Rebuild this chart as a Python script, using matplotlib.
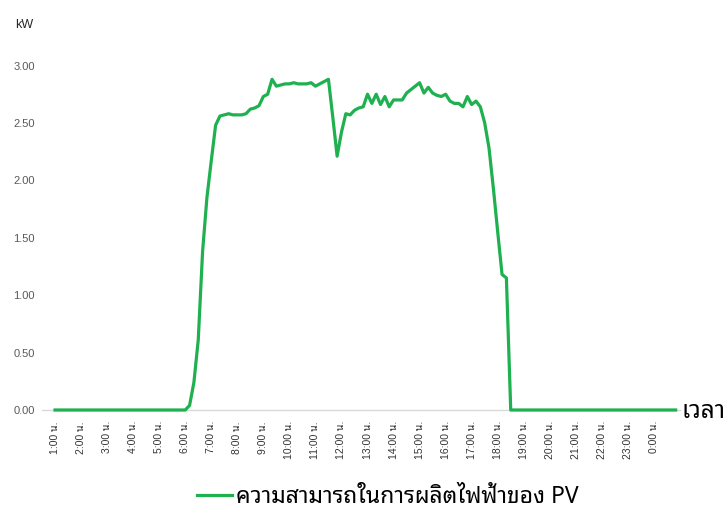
import numpy as np
import matplotlib
matplotlib.use('Agg')
import matplotlib.pyplot as plt
from matplotlib import font_manager

# pick a Thai face (looped style first, like Tahoma)
installed = set(f.name for f in font_manager.fontManager.ttflist)
thai_font = 'DejaVu Sans'
for name in ['Noto Sans Thai Looped', 'IBM Plex Sans Thai Looped', 'Sarabun',
             'K2D', 'Krub', 'Niramit', 'Noto Sans Thai', 'Anuphan']:
    if name in installed:
        thai_font = name
        break
latin_font = 'Liberation Sans'

# PV output every 10 minutes, starting at 1:00 (kW)
pv_kw = [0.0] * 30 + [
    0.00, 0.04, 0.24, 0.61, 1.38, 1.85, 2.17, 2.48, 2.56, 2.57,
    2.58, 2.57, 2.57, 2.57, 2.58, 2.62, 2.63, 2.65, 2.73, 2.75,
    2.88, 2.82, 2.83, 2.84, 2.84, 2.85, 2.84, 2.84, 2.84, 2.85,
    2.82, 2.84, 2.86, 2.88, 2.55, 2.21, 2.42, 2.58, 2.57, 2.61,
    2.63, 2.64, 2.75, 2.67, 2.75, 2.66, 2.73, 2.64, 2.70, 2.70,
    2.70, 2.76, 2.79, 2.82, 2.85, 2.76, 2.81, 2.76, 2.74, 2.73,
    2.75, 2.69, 2.67, 2.67, 2.64, 2.73, 2.66, 2.69, 2.64, 2.50,
    2.28, 1.93, 1.55, 1.18, 1.15, 0.00,
] + [0.0] * 38
start_hour = 1.0
step_hours = 10 / 60

tick_hours = list(range(1, 25))
tick_labels = ['%d:00 น.' % (h % 24) for h in tick_hours]
y_ticks = [0.0, 0.5, 1.0, 1.5, 2.0, 2.5, 3.0]

series_name = 'ความสามารถในการผลิตไฟฟ้าของ PV'
green = '#1fb04f'

hours = start_hour + step_hours * np.arange(len(pv_kw))

fig = plt.figure(figsize=(7.28, 5.16), dpi=100)
ax = fig.add_axes([42 / 728, 106 / 516, 638 / 728, 344.5 / 516])

ax.plot(hours, pv_kw, color=green, lw=2.3, clip_on=False, zorder=3,
        solid_joinstyle='round', label=series_name)

ax.set_xlim(0.5, 25.0)
ax.set_ylim(0, 3.0)
for s in ['top', 'right', 'left']:
    ax.spines[s].set_visible(False)
ax.spines['bottom'].set_color('#d9d9d9')
ax.spines['bottom'].set_linewidth(1.0)

ax.set_yticks(y_ticks)
ax.set_yticklabels(['%.2f' % v for v in y_ticks], family=[latin_font, thai_font],
                   fontsize=8, color='#595959')
ax.set_xticks(tick_hours)
ax.set_xticklabels(tick_labels, rotation=90, family=[latin_font, thai_font],
                   fontsize=7.5, color='#333333')
ax.tick_params(axis='x', length=0, pad=8)
ax.tick_params(axis='y', length=0, pad=5)

fig.text(15 / 728, 1 - 25 / 516, 'kW', family=[latin_font, thai_font], fontsize=9,
         color='#262626', ha='left', va='center')
fig.text(682 / 728, 1 - 412 / 516, 'เวลา', family=[thai_font, latin_font], fontsize=17.5,
         color='#000000', ha='left', va='center')

leg = fig.legend(loc='center', bbox_to_anchor=(388 / 728, 1 - 497 / 516), frameon=False,
                 handlelength=1.5, handletextpad=0.2,
                 prop={'family': [thai_font, latin_font], 'size': 16.5})

fig.savefig('out.png', dpi=100)
